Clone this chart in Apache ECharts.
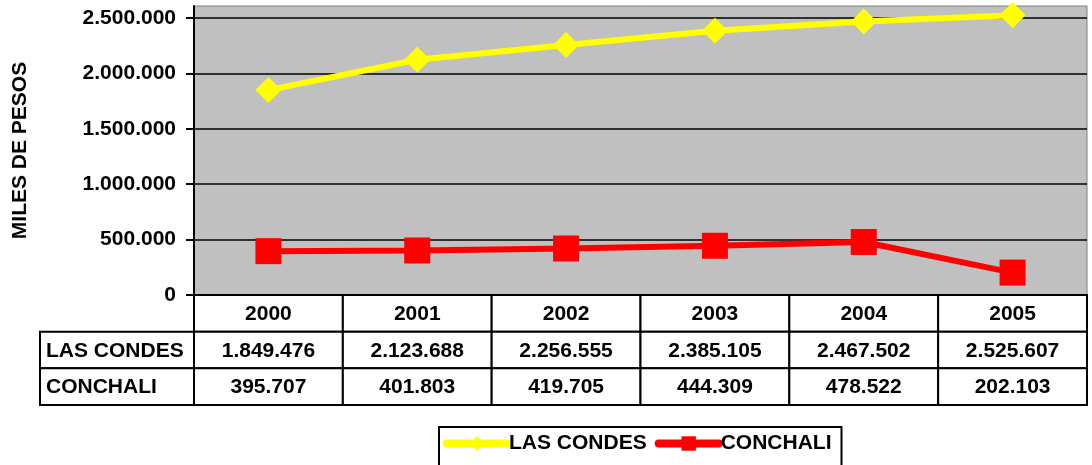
<!DOCTYPE html>
<html>
<head>
<meta charset="utf-8">
<script src="https://cdn.jsdelivr.net/npm/echarts@6/dist/echarts.min.js"></script>
<style>html,body{margin:0;padding:0;background:#fff}#c{width:1092px;height:465px}</style>
</head>
<body>
<div id="c"></div>
<script>
const years = ['2000', '2001', '2002', '2003', '2004', '2005'];
const lasCondes = [1849476, 2123688, 2256555, 2385105, 2467502, 2525607];
const conchali = [395707, 401803, 419705, 444309, 478522, 202103];
const seriesNames = ['LAS CONDES', 'CONCHALI'];
const yTicks = [0, 500000, 1000000, 1500000, 2000000, 2500000];
const yTitle = 'MILES DE PESOS';

const FONT = '"Liberation Sans", Arial, sans-serif';
function fmt(v) { return String(v).replace(/\B(?=(\d{3})+(?!\d))/g, '.'); }

// table cells (column, row, text)
const cells = [];
years.forEach((y, c) => cells.push([c, 0, y]));
lasCondes.forEach((v, c) => cells.push([c, 1, fmt(v)]));
conchali.forEach((v, c) => cells.push([c, 2, fmt(v)]));
const labelCells = seriesNames.map((n, r) => [0, r, n]);

function cellRenderer(list, align) {
  return function (params, api) {
    const item = list[params.dataIndex];
    const p = api.coord([item[0], item[1]]);
    const s = api.size([1, 1]);
    const x0 = p[0] - s[0] / 2, y0 = p[1] - s[1] / 2;
    return {
      type: 'group',
      children: [
        { type: 'rect', shape: { x: x0, y: y0, width: s[0], height: s[1] },
          style: { fill: '#fff', stroke: '#000', lineWidth: 2 } },
        { type: 'text', style: {
            text: item[2], x: align === 'left' ? x0 + 6 : p[0], y: p[1] + 1,
            align: align, verticalAlign: 'middle',
            font: 'bold 21px ' + FONT, fill: '#000' } }
      ]
    };
  };
}

const gridBase = { outerBoundsMode: 'none', containLabel: false };
const chart = echarts.init(document.getElementById('c'));
chart.setOption({
  animation: false,
  backgroundColor: '#fff',
  textStyle: { fontFamily: FONT },
  grid: [
    Object.assign({ left: 194, right: 5, top: 6, bottom: 170, show: true, backgroundColor: '#C0C0C0', borderColor: '#808080', borderWidth: 1 }, gridBase),
    Object.assign({ left: 194, right: 5, top: 18, bottom: 170, show: false }, gridBase),
    Object.assign({ left: 194, right: 5, top: 295, height: 110, show: false }, gridBase),
    Object.assign({ left: 40, width: 154, top: 331.67, height: 73.33, show: false }, gridBase)
  ],
  xAxis: [
    { gridIndex: 0, type: 'category', data: years, show: false },
    { gridIndex: 1, type: 'category', data: years, boundaryGap: true,
      axisLine: { show: true, lineStyle: { color: '#000', width: 2 } },
      axisTick: { show: false }, axisLabel: { show: false }, splitLine: { show: false } },
    { gridIndex: 2, type: 'category', data: years, show: false },
    { gridIndex: 3, type: 'category', data: ['x'], show: false }
  ],
  yAxis: [
    { gridIndex: 0, type: 'value', min: 0, max: 1,
      name: yTitle, nameLocation: 'middle', nameRotate: 90, nameGap: 163,
      nameTextStyle: { fontFamily: FONT, fontWeight: 'bold', fontSize: 21, color: '#000' },
      axisLine: { show: true, onZero: false, lineStyle: { color: '#000', width: 2 } },
      axisTick: { show: false }, axisLabel: { show: false }, splitLine: { show: false } },
    { gridIndex: 1, type: 'value', min: yTicks[0], max: yTicks[yTicks.length - 1], interval: yTicks[1] - yTicks[0],
      axisLine: { show: true, onZero: false, lineStyle: { color: '#000', width: 2 } },
      axisTick: { show: true, inside: false, length: 8, lineStyle: { color: '#000', width: 2 } },
      axisLabel: { show: true, margin: 18, color: '#000', fontFamily: FONT, fontWeight: 'bold', fontSize: 21, formatter: fmt },
      splitLine: { show: true, lineStyle: { color: '#000', width: 1.5 } } },
    { gridIndex: 2, type: 'category', data: ['year'].concat(seriesNames), inverse: true, show: false },
    { gridIndex: 3, type: 'category', data: seriesNames, inverse: true, show: false }
  ],
  legend: {
    data: [
      { name: seriesNames[0], lineStyle: { width: 8, cap: 'round' } },
      { name: seriesNames[1], lineStyle: { width: 8, cap: 'round' } }
    ],
    left: 439, top: 427,
    padding: [6, 10, 40, 4], itemGap: 8, itemWidth: 60, itemHeight: 18,
    borderColor: '#000', borderWidth: 2, borderRadius: 0,
    textStyle: { fontFamily: FONT, fontWeight: 'bold', fontSize: 21, color: '#000', padding: [0, 0, 0, -3] }
  },
  series: [
    { name: seriesNames[0], type: 'line', xAxisIndex: 1, yAxisIndex: 1, data: lasCondes, clip: false,
      symbol: 'diamond', symbolSize: 26, z: 5,
      lineStyle: { color: '#FFFF00', width: 6 }, itemStyle: { color: '#FFFF00' } },
    { name: seriesNames[1], type: 'line', xAxisIndex: 1, yAxisIndex: 1, data: conchali, clip: false,
      symbol: 'rect', symbolSize: 26, z: 5,
      lineStyle: { color: '#FF0000', width: 6 }, itemStyle: { color: '#FF0000' } },
    { type: 'custom', xAxisIndex: 2, yAxisIndex: 2, data: cells.map(c => [c[0], c[1]]),
      renderItem: cellRenderer(cells, 'center'), silent: true },
    { type: 'custom', xAxisIndex: 3, yAxisIndex: 3, data: labelCells.map(c => [c[0], c[1]]),
      renderItem: cellRenderer(labelCells, 'left'), silent: true }
  ]
});
</script>
</body>
</html>
